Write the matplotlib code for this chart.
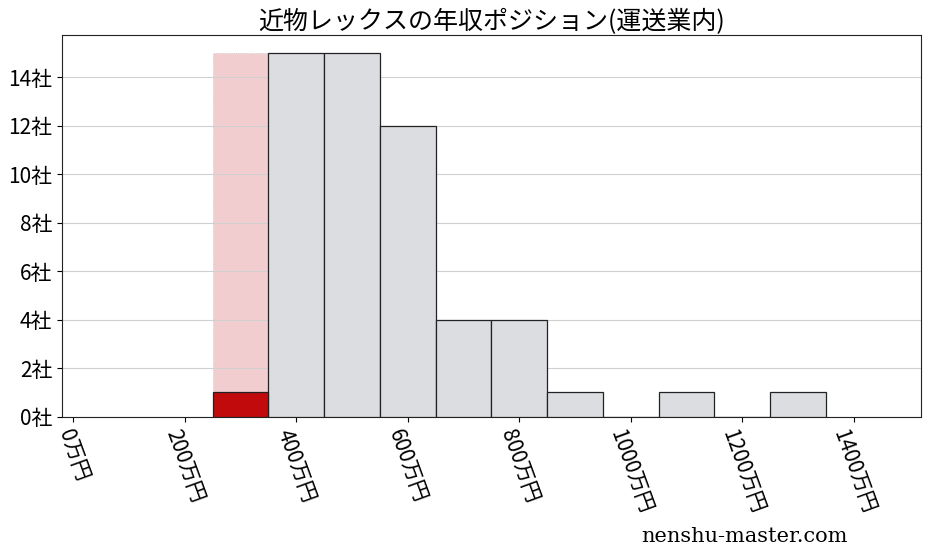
import matplotlib
matplotlib.use("Agg")
import matplotlib.pyplot as plt
import numpy as np

plt.rcParams['font.family'] = ['Noto Sans CJK JP', 'DejaVu Sans']

# 年収帯(万円)と企業数
bins = [300, 400, 500, 600, 700, 800, 900, 1000, 1100, 1200, 1300]
counts = [1, 15, 15, 12, 4, 4, 1, 0, 1, 0, 1]
company_bin = 300
company_count = 1
highlight_height = 15
xticks = [0, 200, 400, 600, 800, 1000, 1200, 1400]
yticks = [0, 2, 4, 6, 8, 10, 12, 14]
title = '近物レックスの年収ポジション(運送業内)'

fig = plt.figure(figsize=(9.28, 5.57), dpi=100)
ax = fig.add_axes([0.067, 0.252, 0.925, 0.685])

ax.set_axisbelow(True)
ax.yaxis.grid(True, color='#d0d0d0', linewidth=0.8)
# pink band sits under the grid lines
ax.bar([company_bin], [highlight_height], width=100, color='#f2cdcf',
       edgecolor='#c8c8c8', linewidth=0.6, linestyle=':', zorder=0.3)
other_b = [b for b in bins if b != company_bin]
other_c = [c for b, c in zip(bins, counts) if b != company_bin]
ax.bar(other_b, other_c, width=100, color='#dcdde0', edgecolor='#222222',
       linewidth=0.9, zorder=3)
ax.bar([company_bin], [company_count], width=100, color='#c00a0c',
       edgecolor='#222222', linewidth=0.9, zorder=3)

ax.set_xlim(-20, 1520)
ax.set_ylim(0, 15.75)
ax.set_xticks(xticks)
ax.set_xticklabels([f'{v}万円' for v in xticks], rotation=-70, fontsize=15)
ax.set_yticks(yticks)
ax.set_yticklabels([f'{v}社' for v in yticks], fontsize=15)
for s in ax.spines.values():
    s.set_color('#222222')
ax.set_title(title, fontsize=18, pad=4)

fig.text(0.913, 0.02, 'nenshu-master.com', ha='right', va='bottom',
         fontsize=15, family=['DejaVu Serif'])

fig.savefig('out.png', dpi=100)
